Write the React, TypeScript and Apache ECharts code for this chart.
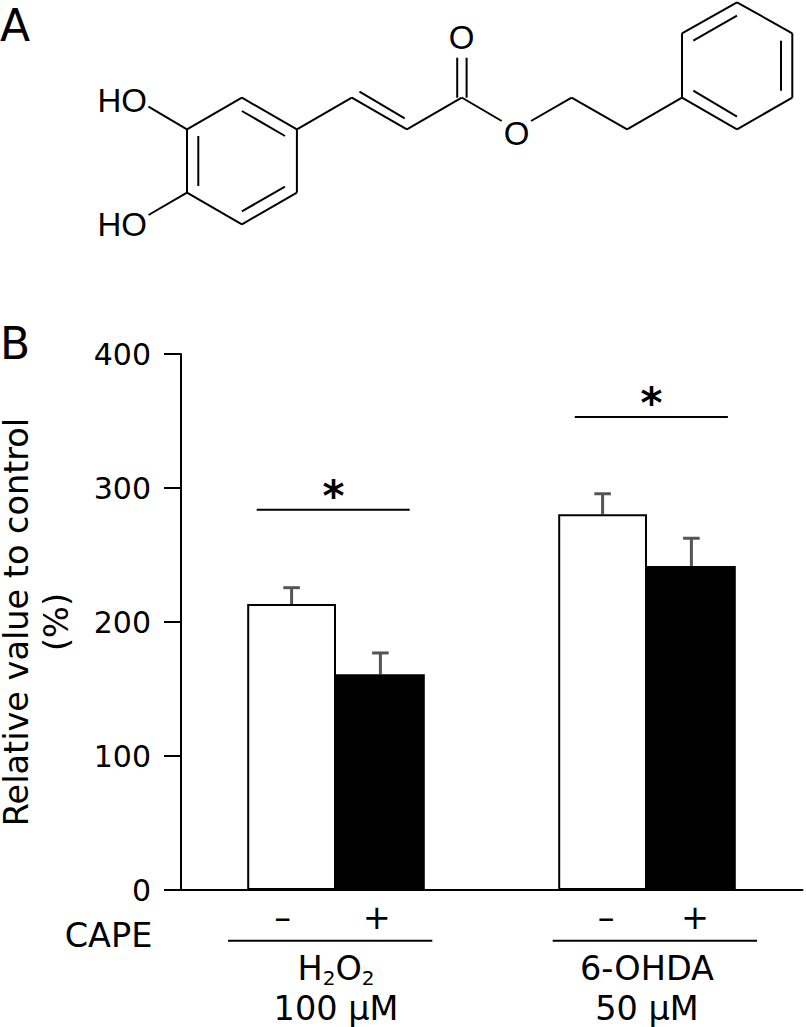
import React, { useEffect, useRef } from "react";
import * as echarts from "echarts";

const FONT = "DejaVu Sans";
const MOL_FONT = "Liberation Sans";
const groups = ["H2O2", "6-OHDA"];
const groupDose = ["100 μM", "50 μM"];
const withoutCape = [213.4, 280.4];
const withCape = [161, 241.8];
const withoutCapeErrorTop = [225.6, 295.7];
const withCapeErrorTop = [176.9, 262.5];
const yTicks = { min: 0, max: 400, interval: 100 };
const BAR_W = 88.8;

const bonds: number[][] = [
  [241.9, 97.7, 296.9, 129.3], [296.9, 129.3, 296.9, 192.7], [296.9, 192.7, 241.9, 224.3],
  [241.9, 224.3, 187, 192.7], [187, 192.7, 187, 129.3], [187, 129.3, 241.9, 97.7],
  [241.9, 111, 285, 136], [198.3, 136, 198.3, 186], [241.9, 211.3, 285, 186.7],
  [187, 129.3, 148.5, 106.7], [187, 192.7, 148.5, 215],
  [296.9, 129.3, 351.8, 97.7], [351.8, 97.7, 406.9, 129.3], [406.9, 129.3, 461.7, 97.7],
  [359.5, 91.7, 404.7, 118.3],
  [457.2, 97.7, 457.2, 57.7], [466.6, 97.7, 466.6, 57.7],
  [461.7, 97.5, 501.7, 121], [531, 121, 571.6, 97.7], [571.6, 97.7, 627.1, 129.3], [627.1, 129.3, 682, 97.7],
  [682, 97.7, 682, 33.3], [682, 33.3, 737, 2.3], [737, 2.3, 792.3, 33.3],
  [792.3, 33.3, 792.3, 97.7], [792.3, 97.7, 737, 129.3], [737, 129.3, 682, 97.7],
  [693.3, 40.7, 737, 15.7], [781, 40.7, 781, 90.7], [693.3, 90.7, 737, 116.7],
];

const line = (p: number[], w = 2, color = "#000") => ({
  type: "line", silent: true,
  shape: { x1: p[0], y1: p[1], x2: p[2], y2: p[3] },
  style: { stroke: color, lineWidth: w },
});
const label = (text: string, x: number, y: number, fontSize = 33.5, align = "center", fontWeight = "normal", fontFamily = FONT) => ({
  type: "text", silent: true, x, y,
  style: { text, fontFamily, fontSize, fontWeight, fill: "#000", align, verticalAlign: "middle" },
});

const errorSeries = (tops: number[], bases: number[], offset: number) => ({
  type: "custom",
  z: 1,
  data: tops.map((t, i) => [i, bases[i], t]),
  encode: { x: 0, y: [1, 2] },
  renderItem: (_: any, api: any) => {
    const base = api.coord([api.value(0), api.value(1)]);
    const top = api.coord([api.value(0), api.value(2)]);
    const x = base[0] + offset;
    const style = { stroke: "#555", lineWidth: 3, fill: "none" };
    return {
      type: "group",
      children: [
        { type: "line", shape: { x1: x, y1: base[1], x2: x, y2: top[1] }, style },
        { type: "line", shape: { x1: x - 8.3, y1: top[1], x2: x + 8.3, y2: top[1] }, style },
      ],
    };
  },
});

export default function App() {
  const ref = useRef<HTMLDivElement>(null);
  useEffect(() => {
    const chart = echarts.init(ref.current!, undefined, { renderer: "svg" });
    chart.setOption({
      animation: false,
      backgroundColor: "#fff",
      textStyle: { fontFamily: FONT },
      grid: { left: 180.5, top: 354, width: 622, height: 536, containLabel: false, outerBoundsMode: "none" },
      xAxis: {
        type: "category",
        data: groups,
        axisLine: { onZero: false, lineStyle: { color: "#000", width: 2 } },
        axisTick: { show: false },
        axisLabel: {
          interval: 0,
          margin: 58,
          hideOverlap: false,
          formatter: (v: string, i: number) =>
            v === "H2O2"
              ? `{n|H}{s|2}{n|O}{s|2}\n{n|${groupDose[i]}}`
              : `{n|${v}}\n{n|${groupDose[i]}}`,
          rich: {
            n: { fontFamily: FONT, fontSize: 33.5, color: "#000", lineHeight: 40 },
            s: { fontFamily: FONT, fontSize: 20, color: "#000", lineHeight: 12, verticalAlign: "bottom" },
          },
        },
      },
      yAxis: {
        type: "value",
        ...yTicks,
        name: "Relative value to control\n(%)",
        nameLocation: "middle",
        nameRotate: 90,
        nameGap: 104,
        nameTextStyle: { fontFamily: FONT, fontSize: 33.5, color: "#000", lineHeight: 40 },
        splitLine: { show: false },
        axisLine: { show: true, lineStyle: { color: "#000", width: 2 } },
        axisTick: { show: true, length: 16.5, lineStyle: { color: "#000", width: 2 } },
        axisLabel: { fontFamily: FONT, fontSize: 30, color: "#000", margin: 29.5 },
      },
      series: [
        {
          type: "bar", data: withoutCape, barWidth: BAR_W, barGap: 0, z: 2,
          itemStyle: { color: "#fff", borderColor: "#000", borderWidth: 2 },
        },
        {
          type: "bar", data: withCape, barWidth: BAR_W, barGap: 0, z: 2,
          itemStyle: { color: "#000" },
        },
        errorSeries(withoutCapeErrorTop, withoutCape, -BAR_W / 2),
        errorSeries(withCapeErrorTop, withCape, BAR_W / 2),
      ],
      graphic: [
        ...bonds.map((b) => line(b)),
        label("A", 0, 25.5, 44, "left"),
        label("B", 0, 343, 44, "left"),
        label("HO", 97.5, 100, 33, "left", "normal", MOL_FONT),
        label("HO", 97.5, 224, 33, "left", "normal", MOL_FONT),
        label("O", 461.7, 37, 33, "center", "normal", MOL_FONT),
        label("O", 516.7, 133, 33, "center", "normal", MOL_FONT),
        line([256.7, 509.7, 409.7, 509.7]),
        line([574.8, 417, 727.9, 417]),
        label("*", 333.5, 496.5, 42, "center", "bold"),
        label("*", 651.4, 403, 42, "center", "bold"),
        label("–", 282.7, 917.5, 33.5),
        label("+", 376.7, 917.5, 33.5),
        label("–", 606, 917.5, 33.5),
        label("+", 695, 917.5, 33.5),
        label("CAPE", 108.5, 935, 33.5),
        line([228, 940.7, 432.3, 940.7]),
        line([552.7, 940.7, 757, 940.7]),
      ],
    });
    return () => chart.dispose();
  }, []);
  return <div ref={ref} style={{ position: "fixed", left: 0, top: 0, width: 806, height: 1027 }} />;
}
